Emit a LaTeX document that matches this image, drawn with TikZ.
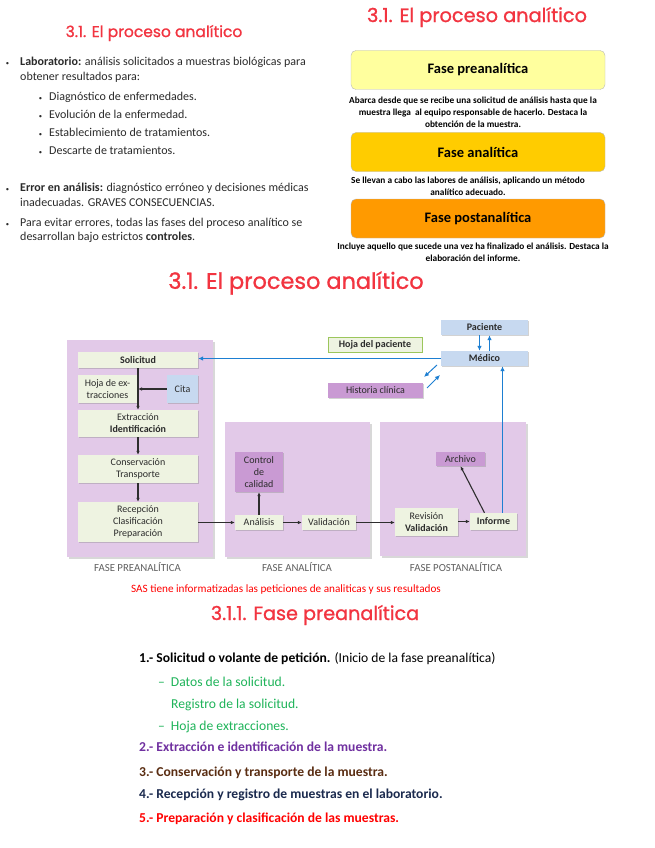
\documentclass[tikz,border=0pt]{standalone}
\usepackage{fontspec}
\setmainfont{Carlito}
\newfontfamily\titlefont[FakeBold=1]{Poppins}
\usetikzlibrary{arrows.meta, shadows}
\definecolor{titlered}{HTML}{F23440}
\definecolor{bodytext}{HTML}{2B2B2B}
\definecolor{preyellow}{HTML}{FFFF9E}
\definecolor{anagold}{HTML}{FFCC00}
\definecolor{postorange}{HTML}{FF9A00}
\definecolor{phasepurple}{HTML}{E2C9E8}
\definecolor{boxgreen}{HTML}{EEF3E1}
\definecolor{boxblue}{HTML}{C7D9F0}
\definecolor{boxpurple}{HTML}{C99AD3}
\definecolor{hojagreen}{HTML}{9CC65C}
\definecolor{arrowblue}{HTML}{1D7FD2}
\definecolor{arrowdark}{HTML}{2E2E2E}
\definecolor{listgreen}{HTML}{1FB45A}
\definecolor{listpurple}{HTML}{7030A0}
\definecolor{listbrown}{HTML}{5A2D12}
\definecolor{listnavy}{HTML}{1B2A4E}
\newcommand{\blt}[1]{\llap{\scalebox{0.55}{\textbullet}\hspace{#1}}}

\begin{document}
\begin{tikzpicture}[x=1pt, y=-1pt,
    title/.style={font=\titlefont\fontsize{15.5}{18}\selectfont, text=titlered},
    body/.style={font=\fontsize{12}{14}\selectfont, text=bodytext, inner sep=0pt, anchor=base west},
    fbox/.style={draw=gray!55, rounded corners=5pt, minimum width=254pt, minimum height=39pt,
                 font=\bfseries\fontsize{14.5}{16}\selectfont, text=black},
    desc/.style={font=\bfseries\fontsize{9.3}{12}\selectfont, align=center, inner sep=0pt, text=black},
    phase/.style={fill=phasepurple, anchor=north west, inner sep=0pt,
                  drop shadow={opacity=0.3, shadow xshift=1.5pt, shadow yshift=-1.5pt}},
    gbox/.style={fill=boxgreen, font=\fontsize{10}{12}\selectfont, text=bodytext, align=center,
                 inner sep=1pt, drop shadow={opacity=0.35, shadow xshift=1.2pt, shadow yshift=-1.2pt}},
    bbox/.style={gbox, fill=boxblue},
    pbox/.style={gbox, fill=boxpurple},
    plabel/.style={font=\fontsize{10.8}{12}\selectfont, text=gray!75!black},
    darr/.style={-{Latex[length=4pt,width=3.6pt]}, line width=1.1pt, color=arrowdark},
    barr/.style={-{Latex[length=5pt,width=4.6pt]}, line width=1.3pt, color=arrowblue},
    item/.style={font=\fontsize{13.6}{15}\selectfont, inner sep=0pt, anchor=base west}
  ]
  \useasboundingbox[fill=white] (0,0) rectangle (655,848);

  % top left slide
  \node[title] (ttl1) at (154,33) {3.1. El proceso analítico};
  \node[body] (lab1) at (20,66) {\blt{11pt}\textbf{Laboratorio:} análisis solicitados a muestras biológicas para};
  \node[body] (lab2) at (20,81) {obtener resultados para:};
  \node[body] (sub1) at (49,101) {\blt{7pt}Diagnóstico de enfermedades.};
  \node[body] (sub2) at (49,118) {\blt{7pt}Evolución de la enfermedad.};
  \node[body] (sub3) at (49,136) {\blt{7pt}Establecimiento de tratamientos.};
  \node[body] (sub4) at (49,154) {\blt{7pt}Descarte de tratamientos.};
  \node[body] (err1) at (20,191) {\blt{11pt}\textbf{Error en análisis:} diagnóstico erróneo y decisiones médicas};
  \node[body] (err2) at (20,206) {inadecuadas. GRAVES CONSECUENCIAS.};
  \node[body] (ctl1) at (20,226) {\blt{11pt}Para evitar errores, todas las fases del proceso analítico se};
  \node[body] (ctl2) at (20,240) {desarrollan bajo estrictos \textbf{controles}.};

  % top right slide
  \node[title, font=\titlefont\fontsize{19.3}{22}\selectfont] (ttl2) at (477,17) {3.1. El proceso analítico};
  \node[fbox, fill=preyellow] (fpre) at (478,70) {Fase preanalítica};
  \node[desc] (dpre) at (473,112.5) {Abarca desde que se recibe una solicitud de análisis hasta que la\\
    muestra llega\ \ al equipo responsable de hacerlo. Destaca la\\obtención de la muestra.};
  \node[fbox, fill=anagold] (fana) at (478,152) {Fase analítica};
  \node[desc] (dana) at (468,186) {Se llevan a cabo las labores de análisis, aplicando un método\\analítico adecuado.};
  \node[fbox, fill=postorange] (fpost) at (478,218.5) {Fase postanalítica};
  \node[desc] (dpost) at (473,252.5) {Incluye aquello que sucede una vez ha finalizado el análisis. Destaca la\\elaboración del informe.};

  % diagram
  \node[title, font=\titlefont\fontsize{22.4}{26}\selectfont] (ttl3) at (296,283) {3.1. El proceso analítico};
  \node[phase, minimum width=146pt, minimum height=217pt] (ph1) at (67,340) {};
  \node[phase, minimum width=145pt, minimum height=135pt] (ph2) at (225,422) {};
  \node[phase, minimum width=146pt, minimum height=134pt] (ph3) at (380,422) {};
  \node[plabel] (lpre) at (137.5,567) {FASE PREANALÍTICA};
  \node[plabel] (lana) at (297,567) {FASE ANALÍTICA};
  \node[plabel] (lpost) at (456,567) {FASE POSTANALÍTICA};

  \node[gbox, minimum width=120pt, minimum height=16pt, font=\bfseries\fontsize{10}{12}\selectfont] (solic) at (138,360) {Solicitud};
  \node[gbox, minimum width=59pt, minimum height=28pt] (hoja) at (107.5,389) {Hoja de ex-\\tracciones};
  \node[bbox, minimum width=31pt, minimum height=28pt] (cita) at (182.5,389) {Cita};
  \node[gbox, minimum width=120pt, minimum height=27pt] (extrac) at (138,423.5) {Extracción\\\textbf{Identificación}};
  \node[gbox, minimum width=120pt, minimum height=28pt] (conserv) at (138,469) {Conservación\\Transporte};
  \node[gbox, minimum width=120pt, minimum height=40pt] (recep) at (138,522) {Recepción\\Clasificación\\Preparación};
  \node[pbox, minimum width=48pt, minimum height=40pt] (control) at (259,472) {Control\\de\\calidad};
  \node[gbox, minimum width=48pt, minimum height=15pt] (analisis) at (259,522.5) {Análisis};
  \node[gbox, minimum width=54pt, minimum height=15pt] (valid) at (329,522.5) {Validación};
  \node[gbox, minimum width=63pt, minimum height=28pt] (revis) at (426.5,522) {Revisión\\\textbf{Validación}};
  \node[gbox, minimum width=47pt, minimum height=17pt, font=\bfseries\fontsize{10}{12}\selectfont] (informe) at (493.5,521.5) {Informe};
  \node[pbox, minimum width=49pt, minimum height=14pt] (archivo) at (460.5,459) {Archivo};
  \node[bbox, minimum width=87pt, minimum height=15pt, font=\bfseries\fontsize{10}{12}\selectfont] (paciente) at (484.5,327.5) {Paciente};
  \node[bbox, minimum width=87pt, minimum height=15pt, font=\bfseries\fontsize{10}{12}\selectfont] (medico) at (484.5,358.5) {Médico};
  \node[gbox, draw=hojagreen, line width=0.8pt, minimum width=94pt, minimum height=15pt,
        font=\bfseries\fontsize{10}{12}\selectfont] (hojapac) at (375,344.5) {Hoja del paciente};
  \node[pbox, minimum width=95pt, minimum height=15pt] (historia) at (375.5,390.5) {Historia clínica};

  \draw[darr] (solic) -- (extrac);
  \draw[darr] (cita.west) -- (cita.west -| solic.south);
  \draw[darr] (extrac) -- (conserv);
  \draw[darr] (conserv) -- (recep);
  \draw[darr] (recep.east |- analisis) -- (analisis);
  \draw[darr] (analisis) -- (control);
  \draw[darr] (analisis) -- (valid);
  \draw[darr] (valid.east) -- (revis.west |- valid.east);
  \draw[darr] (revis.east |- informe) -- (informe);
  \draw[darr] ([xshift=-9pt]informe.north) -- (archivo.south);

  \draw[barr] (medico.west) -- (solic.east |- medico.west);
  \draw[barr] ([xshift=9pt]informe.north) -- ([xshift=9pt]informe.north |- medico.south);
  \draw[barr, line width=1pt] ([xshift=-5pt]paciente.south) -- ([xshift=-5pt]medico.north);
  \draw[barr, line width=1pt] ([xshift=5pt]medico.north) -- ([xshift=5pt]paciente.south);
  \coordinate (hc1) at (437,365);
  \coordinate (hc2) at (424,377);
  \coordinate (hc3) at (427,388);
  \coordinate (hc4) at (440,375);
  \draw[barr, line width=1pt] (hc1) -- (hc2);
  \draw[barr, line width=1pt] (hc3) -- (hc4);

  \node[font=\fontsize{11.2}{13}\selectfont, text=red] (sas) at (286,590) {SAS tiene informatizadas las peticiones de analiticas y sus resultados};

  % bottom slide
  \node[title, font=\titlefont\fontsize{19.2}{22}\selectfont] (ttl4) at (315,615) {3.1.1. Fase preanalítica};
  \node[item, text=black] (it1) at (139,662) {\textbf{1.- Solicitud o volante de petición.} (Inicio de la fase preanalítica)};
  \node[item, text=listgreen] (it1a) at (158,686) {–\hspace{6pt}Datos de la solicitud.};
  \node[item, text=listgreen] (it1b) at (171,708) {Registro de la solicitud.};
  \node[item, text=listgreen] (it1c) at (158,730) {–\hspace{6pt}Hoja de extracciones.};
  \node[item, text=listpurple, font=\bfseries\fontsize{13.6}{15}\selectfont] (it2) at (139,751) {2.- Extracción e identificación de la muestra.};
  \node[item, text=listbrown, font=\bfseries\fontsize{13.6}{15}\selectfont] (it3) at (139,776) {3.- Conservación y transporte de la muestra.};
  \node[item, text=listnavy, font=\bfseries\fontsize{13.6}{15}\selectfont] (it4) at (139,798) {4.- Recepción y registro de muestras en el laboratorio.};
  \node[item, text=red, font=\bfseries\fontsize{13.6}{15}\selectfont] (it5) at (139,822) {5.- Preparación y clasificación de las muestras.};
\end{tikzpicture}
\end{document}
